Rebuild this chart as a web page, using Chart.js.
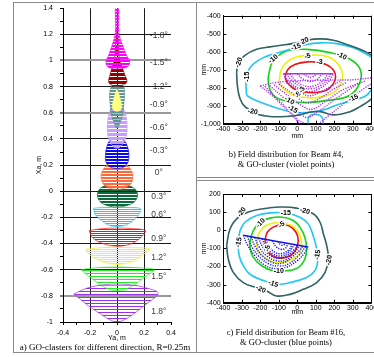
<!DOCTYPE html>
<html><head><meta charset="utf-8">
<script src="https://cdn.jsdelivr.net/npm/chart.js@4.4.1/dist/chart.umd.min.js"></script>
<style>
html,body{margin:0;padding:0;background:#fff;}
body{position:relative;width:374px;height:357px;overflow:hidden;}
canvas{position:absolute;}
.ln{position:absolute;background:#8a8a8a;}
.cap{position:absolute;font-family:"Liberation Serif","Times New Roman",serif;font-size:9px;line-height:9.5px;color:#000;white-space:nowrap;text-align:center;}
.cap2{font-size:8.5px;}
</style></head><body>
<div class="ln" style="left:13px;top:2px;width:361px;height:1px"></div>
<div class="ln" style="left:13px;top:2px;width:1px;height:351px"></div>
<div class="ln" style="left:13px;top:352px;width:361px;height:1px"></div>
<div class="ln" style="left:196px;top:2px;width:1px;height:351px"></div>
<div class="ln" style="left:197px;top:177px;width:177px;height:1px"></div>
<div class="ln" style="left:197px;top:180px;width:177px;height:1px"></div>
<canvas id="ca" width="178" height="353" style="left:14px;top:-3px"></canvas>
<canvas id="cb" width="200" height="140" style="left:197px;top:4px"></canvas>
<canvas id="cc" width="200" height="138" style="left:197px;top:181px"></canvas>
<div class="cap" style="left:14px;top:343px;width:182px">a) GO-clasters for different direction, R=0.25m</div>
<div class="cap cap2" style="left:186px;top:150px;width:200px">b) Field distribution for Beam #4,<br>&amp; GO-cluster (violet points)</div>
<div class="cap cap2" style="left:186px;top:328px;width:200px">c) Field distribution for Beam #16,<br>&amp; GO-cluster (blue points)</div>
<script>
// ================= Panel a: GO-clusters =================
const aXTicks = [-0.4,-0.3,-0.2,-0.1,0,0.1,0.2,0.3,0.4];
const aXLabels = ['-0.4','','-0.2','','0','','0.2','','0.4'];
const aYTicks = [-1,-0.9,-0.8,-0.7,-0.6,-0.5,-0.4,-0.3,-0.2,-0.1,0,0.1,0.2,0.3,0.4,0.5,0.6,0.7,0.8,0.9,1,1.1,1.2,1.3,1.4];
const aYLabels = ['-1','','-0.8','','-0.6','','-0.4','','-0.2','','0','','0.2','','0.4','','0.6','','0.8','','1','','1.2','','1.4'];
const angleLabels = ['-1.8°','-1.5°','-1.2°','-0.9°','-0.6°','-0.3°','0°','0.3°','0.6°','0.9°','1.2°','1.5°','1.8°'];
const angleLabelY = [1.19,0.98,0.80,0.66,0.49,0.31,0.14,-0.04,-0.18,-0.36,-0.505,-0.65,-0.92];

const clM18 = [[0,1.44],[0.012,1.41],[0.014,1.33],[0.012,1.25],[0.02,1.18],[0.04,1.12],[0.07,1.04],[0.095,0.99],[0.08,0.955],[0.04,0.94],[0,0.935],[-0.04,0.94],[-0.072,0.955],[-0.082,0.99],[-0.062,1.04],[-0.035,1.12],[-0.018,1.18],[-0.01,1.25],[-0.012,1.33],[-0.012,1.41],[0,1.44]];
const clM15 = [[0,1.25],[0.008,1.15],[0.02,1.0],[0.04,0.94],[0.058,0.89],[0.074,0.84],[0.05,0.815],[0,0.805],[-0.045,0.815],[-0.062,0.84],[-0.052,0.89],[-0.038,0.94],[-0.02,1.0],[-0.008,1.15],[0,1.25]];
const clM12 = [[-0.04,0.81],[0,0.80],[0.045,0.81],[0.056,0.75],[0.05,0.66],[0.04,0.58],[0.02,0.52],[0,0.48],[-0.02,0.52],[-0.04,0.58],[-0.05,0.66],[-0.055,0.75],[-0.04,0.81]];
const clM09 = [[0,0.78],[0.012,0.75],[0.025,0.70],[0.034,0.66],[0.03,0.625],[0,0.612],[-0.03,0.625],[-0.034,0.66],[-0.025,0.70],[-0.012,0.75],[0,0.78]];
const clM06 = [[0,0.66],[0.04,0.64],[0.065,0.58],[0.075,0.5],[0.07,0.43],[0.05,0.37],[0.02,0.335],[0,0.33],[-0.02,0.335],[-0.05,0.37],[-0.068,0.43],[-0.072,0.5],[-0.062,0.58],[-0.04,0.64],[0,0.66]];
const clM03 = [[0,0.40],[0.05,0.39],[0.078,0.34],[0.088,0.28],[0.08,0.22],[0.05,0.185],[0,0.175],[-0.05,0.185],[-0.08,0.22],[-0.085,0.28],[-0.075,0.34],[-0.05,0.39],[0,0.40]];
const clP00 = [[0,0.225],[0.06,0.21],[0.1,0.17],[0.118,0.12],[0.105,0.06],[0.06,0.025],[0,0.015],[-0.06,0.025],[-0.105,0.06],[-0.118,0.12],[-0.1,0.17],[-0.06,0.21],[0,0.225]];
const clP03 = [[0,0.055],[0.08,0.045],[0.135,0.015],[0.152,-0.03],[0.13,-0.08],[0.07,-0.11],[0,-0.12],[-0.07,-0.11],[-0.125,-0.08],[-0.145,-0.03],[-0.13,0.015],[-0.08,0.045],[0,0.055]];
const clP06 = [[-0.175,-0.13],[-0.1,-0.125],[0,-0.125],[0.1,-0.125],[0.175,-0.135],[0.16,-0.18],[0.12,-0.225],[0.06,-0.26],[0,-0.27],[-0.06,-0.26],[-0.12,-0.22],[-0.16,-0.18],[-0.175,-0.13]];
const clP09 = [[-0.205,-0.30],[-0.1,-0.285],[0,-0.282],[0.1,-0.285],[0.21,-0.30],[0.19,-0.34],[0.13,-0.39],[0.06,-0.415],[0,-0.42],[-0.07,-0.41],[-0.14,-0.385],[-0.19,-0.345],[-0.205,-0.30]];
const clP12 = [[-0.235,-0.445],[-0.1,-0.43],[0,-0.428],[0.12,-0.432],[0.24,-0.44],[0.2,-0.48],[0.13,-0.53],[0.05,-0.555],[0,-0.56],[-0.07,-0.55],[-0.15,-0.52],[-0.21,-0.48],[-0.235,-0.445]];
const clP15 = [[-0.265,-0.6],[-0.15,-0.585],[0,-0.58],[0.15,-0.585],[0.275,-0.6],[0.2,-0.66],[0.12,-0.72],[0.05,-0.755],[0,-0.76],[-0.06,-0.75],[-0.13,-0.71],[-0.21,-0.65],[-0.265,-0.6]];
const clP18 = [[-0.32,-0.785],[-0.22,-0.74],[-0.1,-0.715],[0,-0.71],[0.1,-0.715],[0.22,-0.74],[0.305,-0.78],[0.22,-0.86],[0.12,-0.94],[0.05,-0.985],[0,-1.0],[-0.05,-0.985],[-0.12,-0.94],[-0.22,-0.87],[-0.32,-0.785]];

// ================= Panel b: Beam #4 =================
const bXTicks = [-400,-300,-200,-100,0,100,200,300,400];
const bYTicks = [-1000,-900,-800,-700,-600,-500,-400];
const bLevel20 = [[-328,-715],[-319,-660],[-283,-620],[-220,-587],[-148,-573],[-58,-560],[-4,-551],[50,-536],[123,-529],[195,-536],[267,-560],[339,-587],[393,-615],[438,-651],[465,-751],[429,-824],[393,-869],[339,-905],[285,-933],[195,-951],[123,-933],[68,-936],[14,-951],[-58,-960],[-148,-960],[-220,-945],[-283,-905],[-310,-860],[-324,-787],[-328,-715]];
const bLevel15 = [[-274,-842],[-277,-769],[-265,-705],[-238,-669],[-184,-633],[-112,-609],[-40,-587],[50,-560],[123,-551],[213,-555],[303,-578],[375,-615],[429,-660],[438,-751],[414,-787],[375,-842],[303,-869],[213,-896],[141,-924],[50,-938],[-22,-936],[-94,-918],[-166,-893],[-238,-864],[-274,-842]];
const bLevel10 = [[-130,-642],[-58,-596],[50,-587],[177,-605],[285,-642],[339,-696],[339,-769],[285,-842],[177,-869],[50,-882],[-58,-875],[-130,-842],[-157,-769],[-148,-696],[-130,-642]];
const bLevel5 = [[-97,-751],[-85,-696],[-49,-651],[5,-627],[68,-620],[132,-620],[186,-638],[227,-678],[245,-733],[231,-787],[195,-827],[132,-851],[59,-856],[-13,-845],[-67,-815],[-94,-778],[-97,-751]];
const bLevel3 = [[-67,-742],[-49,-696],[-13,-671],[41,-658],[105,-658],[159,-673],[195,-702],[207,-742],[191,-784],[155,-815],[95,-827],[41,-824],[-13,-809],[-49,-778],[-67,-742]];
const bLevel15Dome = [[58,-1000],[60,-968],[75,-952],[100,-948],[125,-955],[138,-975],[140,-1000]];
const bVioletOuter = [[-200,-790],[-120,-772],[-40,-764],[60,-760],[160,-758],[280,-757],[420,-752],[340,-820],[250,-890],[170,-955],[115,-1000]];
const bVioletLeft = [[-200,-790],[-140,-840],[-80,-900],[-30,-950],[10,-1000]];
const bVioletV1 = [[-150,-788],[-70,-860],[0,-925],[50,-965],[110,-935],[210,-860],[330,-775]];
const bVioletV1b = [[-125,-784],[-45,-848],[25,-900],[80,-920],[160,-870],[250,-810],[370,-762]];
const bVioletV2 = [[-100,-780],[-20,-835],[50,-885],[120,-860],[200,-805],[270,-770]];
const bVioletV3 = [[-60,-772],[10,-815],[60,-845],[130,-820],[230,-765]];
const bVioletV4 = [[-175,-792],[-100,-870],[-40,-930],[0,-975],[40,-1000]];
const bCoreTop = [[-75,-722],[195,-722]];
const bCore1 = [[-75,-722],[-50,-760],[0,-800],[60,-822],[120,-805],[170,-765],[195,-722]];
const bCore1b = [[-58,-722],[-30,-760],[20,-795],[75,-806],[130,-785],[168,-745],[180,-722]];
const bCore2 = [[-40,-722],[-10,-760],[40,-790],[90,-790],[140,-760],[165,-722]];
const bCore3 = [[0,-722],[25,-748],[65,-765],[105,-755],[135,-722]];
const bCore4 = [[35,-722],[55,-738],[80,-742],[105,-722]];
const bLabels = ['-20','-20','-15','-15','-10','-10','-5','-3','-20','-15','-10','-15','-5','-3'];
const bLabelX = [-315,36,-7,-270,-130,240,55,120,-241,303,-43,-25,5,25];
const bLabelY = [-660,-542,-574,-739,-640,-624,-625,-656,-933,-858,-872,-920,-838,-812];
const bLabelRot = [-70,-25,-20,-90,-40,25,-15,0,10,-25,30,30,-60,-60];

// ================= Panel c: Beam #16 =================
const cXTicks = [-400,-300,-200,-100,0,100,200,300,400];
const cYTicks = [-400,-300,-200,-100,0,100,200];
const cLevel20 = [[-382,-85],[-364,7],[-328,63],[-265,100],[-184,119],[-94,128],[-4,122],[86,91],[123,44],[141,-20],[159,-85],[168,-159],[150,-233],[105,-289],[32,-326],[-40,-354],[-112,-363],[-166,-335],[-220,-317],[-292,-289],[-346,-233],[-373,-159],[-382,-85]];
const cLevel15 = [[-310,-2],[-283,44],[-220,81],[-148,96],[-58,94],[14,72],[59,35],[86,-30],[105,-104],[110,-169],[95,-224],[50,-261],[-40,-289],[-103,-298],[-193,-274],[-256,-243],[-292,-196],[-314,-141],[-319,-67],[-310,-2]];
const cLevel10 = [[-256,-67],[-238,-2],[-202,44],[-148,67],[-76,72],[-22,54],[14,17],[41,-39],[50,-104],[41,-159],[5,-206],[-58,-224],[-130,-224],[-193,-196],[-238,-150],[-256,-94],[-256,-67]];
const cLevel5 = [[-220,-67],[-207,-15],[-175,22],[-121,41],[-67,39],[-18,17],[14,-26],[23,-76],[11,-126],[-31,-163],[-94,-178],[-148,-169],[-193,-137],[-216,-100],[-220,-67]];
const cLevel3 = [[-175,-57],[-162,-11],[-130,17],[-85,30],[-40,22],[-7,-11],[5,-57],[-7,-107],[-40,-141],[-85,-154],[-130,-144],[-162,-113],[-175,-57]];
const cBlueTop = [[-292,-28],[59,-93]];
const cBlueArc1 = [[-292,-28],[-270,-80],[-230,-140],[-180,-190],[-120,-212],[-60,-205],[0,-168],[40,-125],[59,-93]];
const cBlueArc1b = [[-270,-32],[-248,-88],[-208,-143],[-155,-185],[-98,-198],[-45,-185],[8,-140],[45,-90]];
const cBlueArc2 = [[-250,-36],[-225,-95],[-185,-145],[-130,-180],[-75,-180],[-25,-145],[15,-108],[30,-88]];
const cBlueArc2b = [[-230,-40],[-205,-95],[-165,-142],[-115,-168],[-65,-165],[-20,-125],[15,-85]];
const cBlueArc3 = [[-210,-43],[-185,-95],[-145,-140],[-100,-155],[-55,-140],[-15,-105],[0,-82]];
const cBlueArc3b = [[-190,-47],[-168,-95],[-130,-132],[-90,-142],[-50,-124],[-15,-79]];
const cBlueArc4 = [[-170,-50],[-150,-95],[-115,-125],[-80,-128],[-45,-108],[-28,-77]];
const cBlueArc5 = [[-135,-57],[-115,-90],[-90,-105],[-65,-100],[-50,-74]];
const cBlueArc6 = [[-105,-62],[-90,-80],[-75,-82],[-62,-70]];
const cLabels = ['-20','-15','-20','-10','-5','-15','-20','-15','-10','-15','-20','-5'];
const cLabelX = [-300,-62,41,-198,-85,-316,172,110,-100,-130,-198,-160];
const cLabelY = [100,94,106,40,30,-67,-165,-135,-224,-296,-326,-100];
const cLabelRot = [-55,0,15,-45,-35,-80,-80,-80,0,20,25,-75];

// ================= helpers =================
const pts = a => a.map(p => ({x: p[0], y: p[1]}));
function stripes(color, rows) {
  const c = document.createElement('canvas');
  c.width = 2; c.height = rows.length;
  const g = c.getContext('2d');
  g.fillStyle = color;
  rows.forEach((r, i) => { if (r) g.fillRect(0, i, 2, 1); });
  return g.createPattern(c, 'repeat');
}
const SANS = '"Liberation Sans", Arial, sans-serif';
const tr = 'rgba(0,0,0,0)';

// ---------- Chart a ----------
const aStyles = [
  [clM18, '#ff00ff', [1,1,0], 1],
  [clM15, '#990000', [1,1,1,0], 2],
  [clM12, '#5f9490', [1,1,0], 4],
  [clM09, '#ffff80', [1], 0],
  [clM06, '#c89bff', [1,1,1,0], 5],
  [clM03, '#0a0ae6', [1,1,0], 6],
  [clP00, '#ff6a3d', [1,1,0], 7],
  [clP03, '#0b6b3a', [1,1,0], 8],
  [clP06, '#1ec8f0', [1,0], 9],
  [clP09, '#ff1010', [1,0], 10],
  [clP12, '#f5f500', [1,0], 11],
  [clP15, '#22ee22', [1,0,0], 12],
  [clP18, '#a030e8', [1,0,0], 13]
];
const anglePlugin = {
  id: 'angleLabels',
  afterDatasetsDraw(chart) {
    const {ctx, scales: {x, y}} = chart;
    ctx.save();
    ctx.font = '8.5px ' + SANS;
    ctx.fillStyle = '#3a3a3a';
    ctx.textAlign = 'center';
    ctx.textBaseline = 'middle';
    angleLabels.forEach((t, i) => ctx.fillText(t, x.getPixelForValue(0.31), y.getPixelForValue(angleLabelY[i])));
    ctx.restore();
  }
};
new Chart(document.getElementById('ca'), {
  type: 'scatter',
  data: { datasets: aStyles.map(s => ({
    data: pts(s[0]), showLine: true, fill: 'shape',
    backgroundColor: stripes(s[1], s[2]), borderColor: s[1], borderWidth: 0.7,
    pointRadius: 0, tension: 0.35, order: s[3]
  })) },
  options: {
    responsive: false, animation: false, devicePixelRatio: 1, events: [],
    layout: { padding: { left: 0, right: 21, top: 0, bottom: 0 } },
    plugins: { legend: { display: false }, tooltip: { enabled: false } },
    scales: {
      x: {
        type: 'linear', min: -0.4, max: 0.4,
        afterBuildTicks: s => { s.ticks = aXTicks.map(v => ({value: v})); },
        afterFit: s => { s.height = 28; },
        ticks: { autoSkip: false, maxRotation: 0, callback: (v, i) => aXLabels[i], font: {family: SANS, size: 7}, color: '#000', padding: 4 },
        grid: {
          color: c => { const v = Math.round(c.tick.value * 10); return (v === -2 || v === 0 || v === 2) ? '#1a1a1a' : tr; },
          tickColor: '#000', tickLength: 3, tickWidth: 1, lineWidth: 1
        },
        border: { color: '#000', width: 1 },
        title: { display: true, text: 'Ya, m', font: {family: SANS, size: 7}, color: '#000', padding: {top: 0, bottom: 7.8} }
      },
      y: {
        type: 'linear', min: -1, max: 1.4,
        afterBuildTicks: s => { s.ticks = aYTicks.map(v => ({value: v})); },
        afterFit: s => { s.width = 49; },
        ticks: { autoSkip: false, callback: (v, i) => aYLabels[i], font: {family: SANS, size: 7}, color: '#000', padding: 7 },
        grid: {
          color: c => { const v = Math.round(c.tick.value * 10); if (v < -8 || v > 12 || v % 2) return tr; return (v === 10 || v === 6 || v === -8) ? '#9a9a9a' : '#1a1a1a'; },
          lineWidth: c => { const v = Math.round(c.tick.value * 10); return (v === 10 || v === 6 || v === -8) ? 2 : 1; },
          tickColor: '#000', tickLength: 3, tickWidth: 1
        },
        border: { color: '#000', width: 1 },
        title: { display: true, text: 'Xa, m', font: {family: SANS, size: 7}, color: '#000', padding: {top: 21, bottom: 0} }
      }
    }
  },
  plugins: [anglePlugin]
});

// ---------- Charts b, c ----------
function boxPlugin(labels, lx, ly, lr) {
  return {
    id: 'boxLabels',
    afterDatasetsDraw(chart) {
      const {ctx, scales: {x, y}} = chart;
      ctx.save();
      ctx.font = 'bold 7px ' + SANS;
      ctx.textAlign = 'center';
      ctx.textBaseline = 'middle';
      labels.forEach((t, i) => {
        ctx.save();
        ctx.translate(x.getPixelForValue(lx[i]), y.getPixelForValue(ly[i]));
        ctx.rotate(lr[i] * Math.PI / 180);
        ctx.lineWidth = 3; ctx.strokeStyle = '#fff'; ctx.lineJoin = 'round';
        ctx.strokeText(t, 0, 0);
        ctx.fillStyle = '#000';
        ctx.fillText(t, 0, 0);
        ctx.restore();
      });
      ctx.restore();
    },
    afterDraw(chart) {
      const {ctx, chartArea: a, scales: {x, y}} = chart;
      ctx.save();
      ctx.strokeStyle = '#000'; ctx.lineWidth = 1;
      ctx.beginPath();
      ctx.rect(Math.round(a.left) + 0.5, Math.round(a.top) + 0.5, Math.round(a.right - a.left), Math.round(a.bottom - a.top));
      x.ticks.forEach(t => { const p = Math.round(x.getPixelForValue(t.value)) + 0.5; ctx.moveTo(p, a.bottom); ctx.lineTo(p, a.bottom - 3); ctx.moveTo(p, a.top); ctx.lineTo(p, a.top + 3); });
      y.ticks.forEach(t => { const p = Math.round(y.getPixelForValue(t.value)) + 0.5; ctx.moveTo(a.left, p); ctx.lineTo(a.left + 3, p); ctx.moveTo(a.right, p); ctx.lineTo(a.right - 3, p); });
      ctx.stroke();
      ctx.restore();
    }
  };
}
const contour = (d, color) => ({ data: pts(d), showLine: true, borderColor: color, borderWidth: 1.6, pointRadius: 0, tension: 0.4, fill: false, order: 10 });
const dotted = (d, color, w) => ({ data: pts(d), showLine: true, borderColor: color, borderWidth: w || 1.4, borderDash: [1.2, 1.3], pointRadius: 0, tension: 0.4, fill: false, order: 0 });
const solidThin = (d, color) => ({ data: pts(d), showLine: true, borderColor: color, borderWidth: 1.5, pointRadius: 0, tension: 0.4, fill: false, order: 0 });
const C20 = '#2f6262', C15 = '#1ec8f5', C10 = '#14d214', C5 = '#f0f000', C3 = '#f01010';

function rightOptions(xt, yt, ymin, ymax, padTop, xh, titleB) {
  return {
    responsive: false, animation: false, devicePixelRatio: 1, events: [],
    layout: { padding: { left: 0, right: 25.7, top: padTop, bottom: 0 } },
    plugins: { legend: { display: false }, tooltip: { enabled: false } },
    scales: {
      x: {
        type: 'linear', min: -400, max: 400,
        afterBuildTicks: s => { s.ticks = xt.map(v => ({value: v})); },
        afterFit: s => { s.height = xh; },
        ticks: { autoSkip: false, maxRotation: 0, font: {family: SANS, size: 7}, color: '#000', padding: 1.5 },
        grid: { drawOnChartArea: false, drawTicks: false },
        border: { color: '#000', width: 1 },
        title: { display: true, text: 'mm', font: {family: SANS, size: 7}, color: '#000', padding: {top: 0, bottom: titleB} }
      },
      y: {
        type: 'linear', min: ymin, max: ymax,
        afterBuildTicks: s => { s.ticks = yt.map(v => ({value: v})); },
        afterFit: s => { s.width = 26.3; },
        ticks: { autoSkip: false, font: {family: SANS, size: 7}, color: '#000', padding: 2.6 },
        grid: { drawOnChartArea: false, drawTicks: false },
        border: { color: '#000', width: 1 },
        title: { display: true, text: 'mm', font: {family: SANS, size: 7}, color: '#000', padding: {top: 2.8, bottom: 0} }
      }
    }
  };
}
const VIO = '#a82ef0';
new Chart(document.getElementById('cb'), {
  type: 'scatter',
  data: { datasets: [
    contour(bLevel20, C20), contour(bLevel15, C15), contour(bLevel15Dome, C15), contour(bLevel10, C10), contour(bLevel5, C5), contour(bLevel3, C3),
    dotted(bVioletOuter, VIO), dotted(bVioletLeft, VIO), dotted(bVioletV1, VIO), dotted(bVioletV1b, VIO), dotted(bVioletV2, VIO), dotted(bVioletV3, VIO), dotted(bVioletV4, VIO),
    solidThin(bCoreTop, VIO), dotted(bCore1, VIO, 1.5), dotted(bCore1b, VIO, 1.5), dotted(bCore2, VIO, 1.5), dotted(bCore3, VIO, 1.5), dotted(bCore4, VIO, 1.5)
  ] },
  options: rightOptions(bXTicks, bYTicks, -1000, -400, 11.7, 20.3, 3.8),
  plugins: [boxPlugin(bLabels, bLabelX, bLabelY, bLabelRot)]
});
const BLU = '#1414f0';
new Chart(document.getElementById('cc'), {
  type: 'scatter',
  data: { datasets: [
    contour(cLevel20, C20), contour(cLevel15, C15), contour(cLevel10, C10), contour(cLevel5, C5), contour(cLevel3, C3),
    solidThin(cBlueTop, BLU), dotted(cBlueArc1, BLU), dotted(cBlueArc1b, BLU), dotted(cBlueArc2, BLU), dotted(cBlueArc2b, BLU),
    dotted(cBlueArc3, BLU, 1.5), dotted(cBlueArc3b, BLU, 1.5), dotted(cBlueArc4, BLU, 1.5), dotted(cBlueArc5, BLU, 1.5), dotted(cBlueArc6, BLU, 1.5)
  ] },
  options: rightOptions(cXTicks, cYTicks, -400, 200, 13, 16.3, 2.8),
  plugins: [boxPlugin(cLabels, cLabelX, cLabelY, cLabelRot)]
});
</script>
</body></html>
